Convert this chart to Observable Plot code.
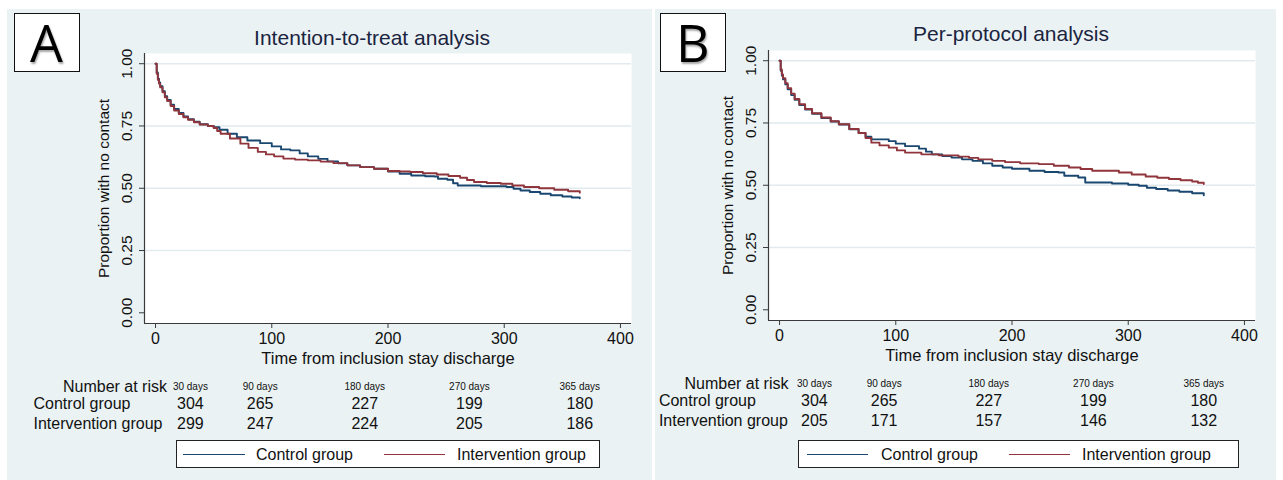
<!DOCTYPE html>
<html><head><meta charset="utf-8">
<script src="https://cdn.jsdelivr.net/npm/d3@7"></script>
<script src="https://cdn.jsdelivr.net/npm/@observablehq/plot@0.6"></script>
<style>
body{margin:0;background:#fff;}
#wrap{position:relative;width:1283px;height:480px;overflow:hidden;font-family:"Liberation Sans",Arial,sans-serif;}
.panel{position:absolute;top:9px;height:471px;background:#eaf2f3;}
.panel svg{position:absolute;left:0;top:0;overflow:visible;}
.tag{position:absolute;box-sizing:border-box;background:#fff;border:1.5px solid #111;font-family:"Open Sans",sans-serif;font-size:52px;line-height:1;display:flex;align-items:center;justify-content:center;color:#000;text-shadow:1px 2px 2px rgba(0,0,0,0.35);}
.title{position:absolute;font-size:21px;color:#1b2440;white-space:nowrap;transform:translate(-50%,-50%);}
.legend{position:absolute;box-sizing:border-box;background:#fff;border:1px solid #222;}
.legend .ln{position:absolute;height:0;border-top:1.6px solid;}
.legend .lt{position:absolute;font-size:16px;white-space:nowrap;transform:translateY(-50%);color:#111;}
</style>
</head><body>
<div id="wrap"></div>
<script>
// ---- data ----
const xTicks = [0, 100, 200, 300, 400];
const yTicks = [0, 0.25, 0.5, 0.75, 1];
const gridY = [0.25, 0.5, 0.75, 1];
const riskDays = [30, 90, 180, 270, 365];
const riskDayLabels = ["30 days", "90 days", "180 days", "270 days", "365 days"];
const riskControlA = [304, 265, 227, 199, 180];
const riskInterventionA = [299, 247, 224, 205, 186];
const riskControlB = [304, 265, 227, 199, 180];
const riskInterventionB = [205, 171, 157, 146, 132];
const groups = ["Control group", "Intervention group"];
const titles = ["Intention-to-treat analysis", "Per-protocol analysis"];
const panelTags = ["A", "B"];

// Kaplan-Meier curves: [days, proportion with no contact]
const controlA = [[0,1],[1,0.965],[2,0.94],[3,0.925],[4,0.91],[6,0.89],[8,0.87],[10,0.855],[13,0.835],[16,0.818],[20,0.802],[24,0.788],[28,0.777],[33,0.767],[38,0.757],[45,0.75],[50,0.745],[55,0.735],[62,0.719],[70,0.705],[79,0.692],[90,0.681],[100,0.668],[108,0.656],[116,0.652],[124,0.64],[131,0.628],[140,0.618],[148,0.608],[157,0.6],[165,0.592],[176,0.585],[188,0.578],[200,0.567],[210,0.558],[220,0.551],[232,0.548],[240,0.547],[243,0.538],[251,0.534],[256,0.52],[260,0.511],[280,0.508],[302,0.505],[308,0.498],[314,0.491],[322,0.485],[331,0.478],[340,0.472],[350,0.467],[358,0.463],[365,0.46]];
const interventionA = [[0,1],[1,0.96],[2,0.935],[3,0.92],[4,0.905],[6,0.885],[8,0.865],[10,0.85],[13,0.83],[16,0.812],[20,0.798],[24,0.785],[28,0.775],[33,0.765],[38,0.756],[45,0.75],[50,0.742],[53,0.73],[56,0.719],[64,0.7],[73,0.679],[80,0.662],[88,0.646],[95,0.636],[102,0.628],[110,0.619],[120,0.615],[131,0.612],[142,0.607],[153,0.601],[165,0.592],[176,0.585],[188,0.578],[200,0.569],[210,0.567],[219,0.565],[230,0.56],[242,0.555],[252,0.549],[262,0.542],[268,0.533],[274,0.525],[285,0.521],[297,0.518],[307,0.511],[317,0.505],[330,0.5],[343,0.494],[355,0.488],[365,0.482]];
const controlB = [[0,1],[1,0.96],[2,0.94],[3,0.925],[5,0.905],[7,0.885],[10,0.862],[13,0.843],[17,0.822],[22,0.804],[28,0.787],[36,0.77],[44,0.756],[51,0.744],[60,0.725],[68,0.71],[74,0.695],[79,0.684],[94,0.677],[100,0.667],[108,0.657],[120,0.647],[126,0.635],[131,0.624],[140,0.617],[148,0.611],[157,0.604],[166,0.598],[175,0.588],[183,0.578],[192,0.571],[200,0.566],[215,0.558],[228,0.553],[240,0.551],[245,0.538],[257,0.531],[263,0.511],[286,0.507],[300,0.502],[309,0.498],[316,0.49],[324,0.485],[334,0.479],[344,0.474],[355,0.468],[365,0.46]];
const interventionB = [[0,1],[1,0.965],[2,0.945],[3,0.93],[5,0.91],[7,0.89],[10,0.868],[13,0.846],[17,0.825],[22,0.806],[28,0.789],[36,0.772],[44,0.757],[51,0.745],[60,0.726],[68,0.71],[74,0.69],[79,0.671],[86,0.66],[94,0.651],[101,0.64],[108,0.631],[122,0.624],[137,0.62],[154,0.615],[163,0.61],[171,0.604],[183,0.598],[194,0.593],[207,0.588],[223,0.585],[236,0.578],[249,0.571],[259,0.565],[269,0.558],[292,0.551],[303,0.543],[315,0.535],[325,0.53],[335,0.525],[345,0.52],[355,0.515],[360,0.51],[365,0.505]];

const xLabel = "Time from inclusion stay discharge";
const yLabel = "Proportion with no contact";
const colors = ["#1a476f", "#90353b"];

// ---- drawing ----
const wrap = document.getElementById("wrap");
const xDomain = [-9.5, 409.5];
const yDomain = [-0.043, 1.041];

function km(points, group) { return points.map(([t, s]) => ({t, s, group})); }

function makePanel(cfg) {
  const div = document.createElement("div");
  div.className = "panel";
  div.style.left = cfg.left + "px";
  div.style.width = cfg.width + "px";
  wrap.appendChild(div);
  const data = km(cfg.control, groups[0]).concat(km(cfg.intervention, groups[1]));
  const txt = {fill: "#111", fontFamily: "Liberation Sans, Arial, sans-serif"};
  const svg = Plot.plot({
    width: cfg.width, height: 471,
    marginLeft: cfg.ml, marginRight: cfg.mr, marginTop: cfg.mt, marginBottom: cfg.mb,
    style: {background: "transparent", fontFamily: "Liberation Sans, Arial, sans-serif", overflow: "visible"},
    x: {domain: xDomain},
    y: {domain: yDomain},
    color: {domain: groups, range: colors},
    marks: [
      Plot.frame({fill: "white", stroke: null}),
      Plot.ruleY(gridY, {stroke: "#e1eaee", strokeWidth: 1.5}),
      Plot.line(data, {x: "t", y: "s", stroke: "group", z: "group", curve: "step-after", strokeWidth: 1.9}),
      Plot.ruleX([xDomain[0]], {stroke: "#3a3a3a", strokeWidth: 1.2}),
      Plot.ruleY([yDomain[0]], {stroke: "#3a3a3a", strokeWidth: 1.2}),
      Plot.axisX(xTicks, {tickSize: 5, tickPadding: 4, fontSize: 16, label: null, stroke: "#3a3a3a", ...txt}),
      Plot.axisY(yTicks, {tickSize: 5, tickFormat: () => "", label: null, stroke: "#3a3a3a"}),
      Plot.text(yTicks, {y: d => d, text: d => d3.format(".2f")(d), frameAnchor: "left", dx: -17, rotate: -90, textAnchor: "middle", lineAnchor: "middle", fontSize: 15.5, ...txt}),
      Plot.text([yLabel], {frameAnchor: "left", dx: -40, rotate: -90, textAnchor: "middle", lineAnchor: "middle", fontSize: 15.5, ...txt}),
      Plot.text([xLabel], {frameAnchor: "bottom", dy: 35, lineAnchor: "middle", fontSize: 16.5, ...txt}),
      // number at risk table
      Plot.text(["Number at risk"], {frameAnchor: "bottom-left", dx: cfg.nrDx, dy: 63, textAnchor: "end", lineAnchor: "middle", fontSize: 16, ...txt}),
      Plot.text(riskDays, {x: d => d, text: (d, i) => riskDayLabels[i], frameAnchor: "bottom", dy: 63, lineAnchor: "middle", fontSize: 10, fill: "#111", fontFamily: "Liberation Sans Narrow, Liberation Sans, Arial, sans-serif"}),
      Plot.text([groups[0]], {frameAnchor: "bottom-left", dx: cfg.rowDx, dy: 80, textAnchor: "start", lineAnchor: "middle", fontSize: 16, ...txt}),
      Plot.text([groups[1]], {frameAnchor: "bottom-left", dx: cfg.rowDx, dy: 100, textAnchor: "start", lineAnchor: "middle", fontSize: 16, ...txt}),
      Plot.text(riskDays, {x: d => d, text: (d, i) => String(cfg.riskC[i]), frameAnchor: "bottom", dy: 80, lineAnchor: "middle", fontSize: 16, ...txt}),
      Plot.text(riskDays, {x: d => d, text: (d, i) => String(cfg.riskI[i]), frameAnchor: "bottom", dy: 100, lineAnchor: "middle", fontSize: 16, ...txt})
    ]
  });
  div.appendChild(svg);

  const title = document.createElement("div");
  title.className = "title";
  title.textContent = cfg.title;
  title.style.left = (cfg.titleX - cfg.left) + "px";
  title.style.top = (cfg.titleY - 9) + "px";
  div.appendChild(title);

  const tag = document.createElement("div");
  tag.className = "tag";
  tag.textContent = cfg.tag;
  tag.style.left = (cfg.tagX - cfg.left) + "px";
  tag.style.top = (12.5 - 9) + "px";
  tag.style.width = cfg.tagW + "px";
  tag.style.height = "59.5px";
  div.appendChild(tag);

  const lg = document.createElement("div");
  lg.className = "legend";
  lg.style.left = (cfg.lgX - cfg.left) + "px";
  lg.style.top = (440 - 9) + "px";
  lg.style.width = cfg.lgW + "px";
  lg.style.height = "28px";
  const items = [
    {c: colors[0], t: groups[0], l0: cfg.lg[0], l1: cfg.lg[1], tx: cfg.lg[2]},
    {c: colors[1], t: groups[1], l0: cfg.lg[3], l1: cfg.lg[4], tx: cfg.lg[5]}
  ];
  for (const it of items) {
    const ln = document.createElement("div");
    ln.className = "ln";
    ln.style.borderTopColor = it.c;
    ln.style.left = (it.l0 - cfg.lgX) + "px";
    ln.style.width = (it.l1 - it.l0) + "px";
    ln.style.top = "13px";
    lg.appendChild(ln);
    const lt = document.createElement("div");
    lt.className = "lt";
    lt.textContent = it.t;
    lt.style.left = (it.tx - cfg.lgX) + "px";
    lt.style.top = "13.5px";
    lg.appendChild(lt);
  }
  div.appendChild(lg);
}

makePanel({left: 7, width: 645, ml: 137, mr: 21, mt: 44, mb: 157,
  control: controlA, intervention: interventionA, riskC: riskControlA, riskI: riskInterventionA,
  nrDx: 22.5, rowDx: -111, title: titles[0], titleX: 372, titleY: 38,
  tag: panelTags[0], tagX: 13.5, tagW: 66,
  lgX: 176, lgW: 424, lg: [182, 244, 255, 383, 444, 456]});

makePanel({left: 655, width: 621, ml: 113, mr: 21, mt: 41, mb: 160,
  control: controlB, intervention: interventionB, riskC: riskControlB, riskI: riskInterventionB,
  nrDx: 20, rowDx: -109.6, title: titles[1], titleX: 1011, titleY: 34,
  tag: panelTags[1], tagX: 659.5, tagW: 66.5,
  lgX: 798, lgW: 441, lg: [806, 867, 880, 1008, 1069, 1081]});
</script>
</body></html>
